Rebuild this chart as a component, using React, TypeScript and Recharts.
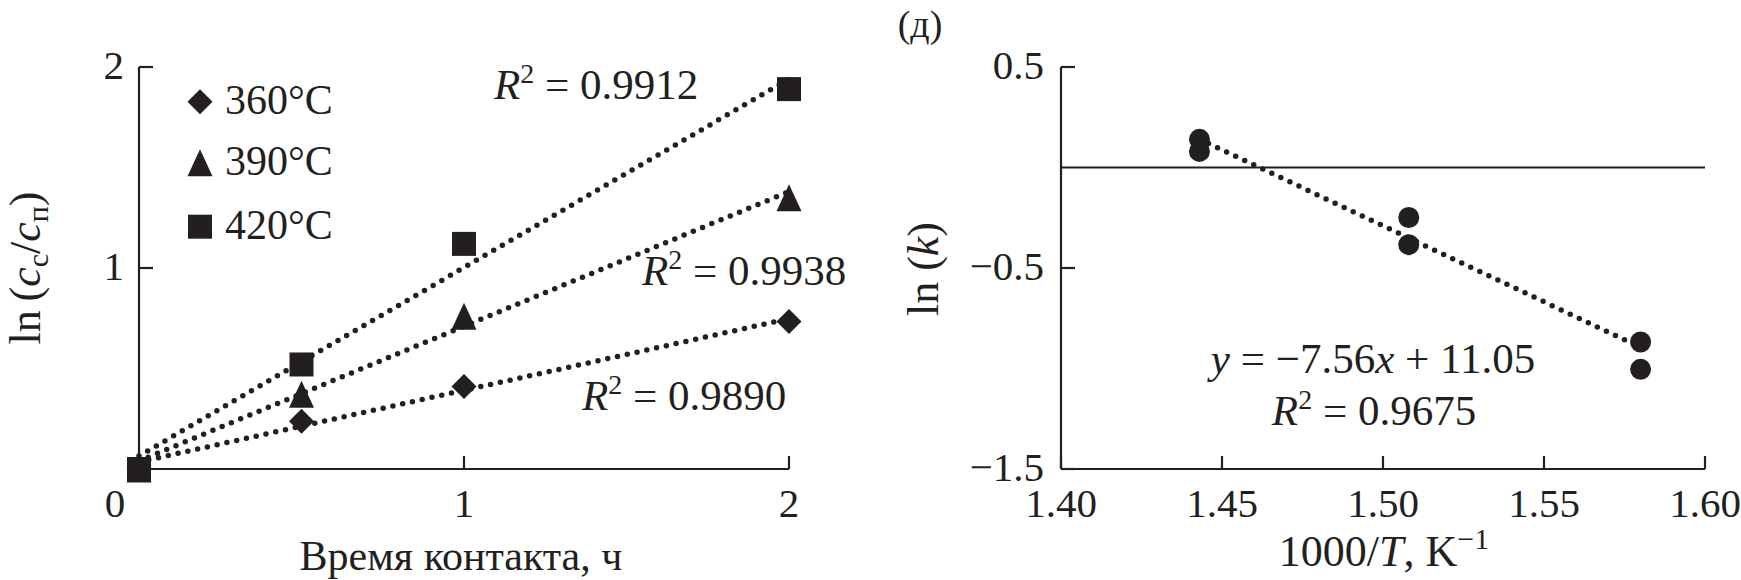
import React from 'react';
import { ComposedChart, Scatter, Line, XAxis, YAxis, ReferenceLine } from 'recharts';

// ---------- data: left panel (kinetics) ----------
const contactTime = [0, 0.5, 1, 2];
const y360 = [0, 0.238, 0.41, 0.734];
const y390 = [0, 0.372, 0.76, 1.35];
const y420 = [0, 0.52, 1.12, 1.89];
const trendTime = [0, 2];
const trend360 = [0.035, 0.748];
const trend390 = [0.04, 1.38];
const trend420 = [0.065, 1.94];
const leftXTicks = [0, 1, 2];
const leftYTicks = [1, 2];
const seriesNames = ['360°C', '390°C', '420°C'];
const r2Left = ['0.9912', '0.9938', '0.9890'];

// ---------- data: right panel (Arrhenius) ----------
const invT = [1.443, 1.443, 1.508, 1.508, 1.58, 1.58];
const lnK = [0.14, 0.08, -0.249, -0.384, -0.868, -1.004];
const arrTrendX = [1.443, 1.58];
const arrTrendY = [0.141, -0.895];
const rightXTicks = [1.4, 1.45, 1.5, 1.55, 1.6];
const rightYTicks = [0.5, -0.5, -1.5];
const eqText = { slope: '7.56', intercept: '11.05', r2: '0.9675' };

const INK = '#231f20';
const FONT = '"Liberation Serif", "Times New Roman", serif';
const TICK_FS = 41;
const LEG_FS = 42;
const ANN_FS = 43;
const TITLE_FS = 42;

const toXY = (xs: number[], ys: number[]) => xs.map((x, i) => ({ x, y: ys[i] }));

const d360 = toXY(contactTime, y360);
const d390 = toXY(contactTime, y390);
const d420 = toXY(contactTime, y420);
const t360 = toXY(trendTime, trend360);
const t390 = toXY(trendTime, trend390);
const t420 = toXY(trendTime, trend420);
const dArr = toXY(invT, lnK);
const tArr = toXY(arrTrendX, arrTrendY);

const fmtMinus = (v: number, digits: number) =>
  (v < 0 ? '\u2212' : '') + Math.abs(v).toFixed(digits);

const Diamond = (p: any) => {
  const { cx, cy } = p;
  const r = 12.5;
  return <path d={`M${cx},${cy - r}L${cx + r},${cy}L${cx},${cy + r}L${cx - r},${cy}Z`} fill={INK} />;
};
const Triangle = (p: any) => {
  const { cx, cy } = p;
  const w = 12.5, h = 13.5;
  return <path d={`M${cx},${cy - h}L${cx + w},${cy + h}L${cx - w},${cy + h}Z`} fill={INK} />;
};
const Square = (p: any) => {
  const { cx, cy } = p;
  const s = 12;
  return <rect x={cx - s} y={cy - s} width={2 * s} height={2 * s} fill={INK} />;
};
const Dot = (p: any) => {
  const { cx, cy } = p;
  return <circle cx={cx} cy={cy} r={10.5} fill={INK} />;
};

const makeXTick = (digits: number, shiftZero: boolean) => (props: any) => {
  const { x, y, payload } = props;
  const v = payload.value as number;
  const dx = shiftZero && v === 0 ? -24 : 0;
  return (
    <g>
      <line x1={x} y1={y} x2={x} y2={y - 13} stroke={INK} strokeWidth={2.2} />
      <text x={x + dx} y={y + 48} textAnchor="middle" fontFamily={FONT} fontSize={TICK_FS} fill={INK}>
        {fmtMinus(v, digits)}
      </text>
    </g>
  );
};

const makeYTick = (digits: number, gap: number) => (props: any) => {
  const { x, y, payload } = props;
  const v = payload.value as number;
  return (
    <g>
      <line x1={x} y1={y} x2={x + 14} y2={y} stroke={INK} strokeWidth={2.2} />
      <text x={x - gap} y={y + 12} textAnchor="end" fontFamily={FONT} fontSize={TICK_FS} fill={INK}>
        {fmtMinus(v, digits)}
      </text>
    </g>
  );
};

const trendProps = {
  type: 'linear' as const,
  dataKey: 'y',
  stroke: INK,
  strokeWidth: 5.5,
  strokeDasharray: '0 10',
  strokeLinecap: 'round' as const,
  dot: false,
  activeDot: false,
  isAnimationActive: false,
  legendType: 'none' as const,
};

const LeftChart = () => (
  <ComposedChart width={870} height={580} margin={{ top: 67, right: 81, bottom: 81, left: 79 }}>
    <XAxis
      type="number"
      dataKey="x"
      domain={[0, 2]}
      ticks={leftXTicks}
      height={30}
      tickSize={0}
      tickMargin={0}
      tickLine={false}
      axisLine={{ stroke: INK, strokeWidth: 2.2 }}
      tick={makeXTick(0, true)}
      interval={0}
    />
    <YAxis
      type="number"
      dataKey="y"
      domain={[0, 2]}
      ticks={leftYTicks}
      width={60}
      tickSize={0}
      tickMargin={0}
      tickLine={false}
      axisLine={{ stroke: INK, strokeWidth: 2.2 }}
      tick={makeYTick(0, 15)}
      interval={0}
    />
    <Line {...trendProps} data={t360} name="trend360" />
    <Line {...trendProps} data={t390} name="trend390" />
    <Line {...trendProps} data={t420} name="trend420" />
    <Scatter data={d360} dataKey="y" name={seriesNames[0]} shape={Diamond} isAnimationActive={false} />
    <Scatter data={d390} dataKey="y" name={seriesNames[1]} shape={Triangle} isAnimationActive={false} />
    <Scatter data={d420} dataKey="y" name={seriesNames[2]} shape={Square} isAnimationActive={false} />
  </ComposedChart>
);

const RightChart = () => (
  <ComposedChart width={871} height={580} margin={{ top: 67, right: 36, bottom: 81, left: 131 }}>
    <XAxis
      type="number"
      dataKey="x"
      domain={[1.4, 1.6]}
      ticks={rightXTicks}
      height={30}
      tickSize={0}
      tickMargin={0}
      tickLine={false}
      axisLine={{ stroke: INK, strokeWidth: 2.2 }}
      tick={makeXTick(2, false)}
      interval={0}
      allowDecimals
    />
    <YAxis
      type="number"
      dataKey="y"
      domain={[-1.5, 0.5]}
      ticks={rightYTicks}
      width={60}
      tickSize={0}
      tickMargin={0}
      tickLine={false}
      axisLine={{ stroke: INK, strokeWidth: 2.2 }}
      tick={makeYTick(1, 17)}
      interval={0}
      allowDecimals
    />
    <ReferenceLine y={0} stroke={INK} strokeWidth={2.2} />
    <Line {...trendProps} data={tArr} name="trendArr" />
    <Scatter data={dArr} dataKey="y" name="ln k" shape={Dot} isAnimationActive={false} />
  </ComposedChart>
);

const LegendMarks = [Diamond, Triangle, Square];
const legendY = [101.7, 162.7, 226.7];
const r2Pos = [
  { x: 494, y: 99 },
  { x: 642, y: 285 },
  { x: 582, y: 410 },
];

const R2 = ({ x, y, value, anchor = 'start' }: any) => (
  <text x={x} y={y} fontFamily={FONT} fontSize={ANN_FS} fill={INK} textAnchor={anchor}>
    <tspan fontStyle="italic">R</tspan>
    <tspan fontSize={28} dy={-16}>2</tspan>
    <tspan dy={16}>{'\u00a0= '}{value}</tspan>
  </text>
);

const Overlay = () => (
  <svg width={1741} height={580} style={{ position: 'absolute', left: 0, top: 0, pointerEvents: 'none' }}>
    {/* legend */}
    {seriesNames.map((name, i) => {
      const M = LegendMarks[i];
      return (
        <g key={name}>
          <M cx={200} cy={legendY[i]} />
          <text x={225} y={legendY[i] + 12} fontFamily={FONT} fontSize={LEG_FS} fill={INK}>
            {name}
          </text>
        </g>
      );
    })}
    {/* R² labels left */}
    {r2Left.map((v, i) => (
      <R2 key={v} x={r2Pos[i].x} y={r2Pos[i].y} value={v} />
    ))}
    {/* left axis titles */}
    <text x={461} y={570} textAnchor="middle" fontFamily={FONT} fontSize={TITLE_FS} fill={INK}>
      Время контакта, ч
    </text>
    <text transform="translate(40,268) rotate(-90)" textAnchor="middle" fontFamily={FONT} fontSize={44} fill={INK}>
      <tspan>{'ln\u2009('}</tspan>
      <tspan fontStyle="italic">c</tspan>
      <tspan fontSize={30} dy={8}>с</tspan>
      <tspan dy={-8}>/</tspan>
      <tspan fontStyle="italic">c</tspan>
      <tspan fontSize={30} dy={8}>п</tspan>
      <tspan dy={-8}>)</tspan>
    </text>
    {/* right panel */}
    <text x={920} y={37} textAnchor="middle" fontFamily={FONT} fontSize={38} fill={INK}>
      (д)
    </text>
    <text transform="translate(938,269) rotate(-90)" textAnchor="middle" fontFamily={FONT} fontSize={44} fill={INK}>
      <tspan>{'ln ('}</tspan>
      <tspan fontStyle="italic">k</tspan>
      <tspan>)</tspan>
    </text>
    <text x={1384} y={566} textAnchor="middle" fontFamily={FONT} fontSize={44} fill={INK}>
      <tspan>1000/</tspan>
      <tspan fontStyle="italic">T</tspan>
      <tspan>, K</tspan>
      <tspan fontSize={30} dy={-17}>{'\u22121'}</tspan>
    </text>
    <text x={1373} y={373} textAnchor="middle" fontFamily={FONT} fontSize={ANN_FS} fill={INK}>
      <tspan fontStyle="italic">y</tspan>
      <tspan>{' = \u2212'}{eqText.slope}</tspan>
      <tspan fontStyle="italic">x</tspan>
      <tspan>{' + '}{eqText.intercept}</tspan>
    </text>
    <R2 x={1374} y={425} value={eqText.r2} anchor="middle" />
  </svg>
);

export default function App() {
  return (
    <div style={{ position: 'absolute', left: 0, top: 0, width: 1741, height: 580, background: '#fff', overflow: 'hidden' }}>
      <div style={{ position: 'absolute', left: 0, top: 0 }}>
        <LeftChart />
      </div>
      <div style={{ position: 'absolute', left: 870, top: 0 }}>
        <RightChart />
      </div>
      <Overlay />
    </div>
  );
}
